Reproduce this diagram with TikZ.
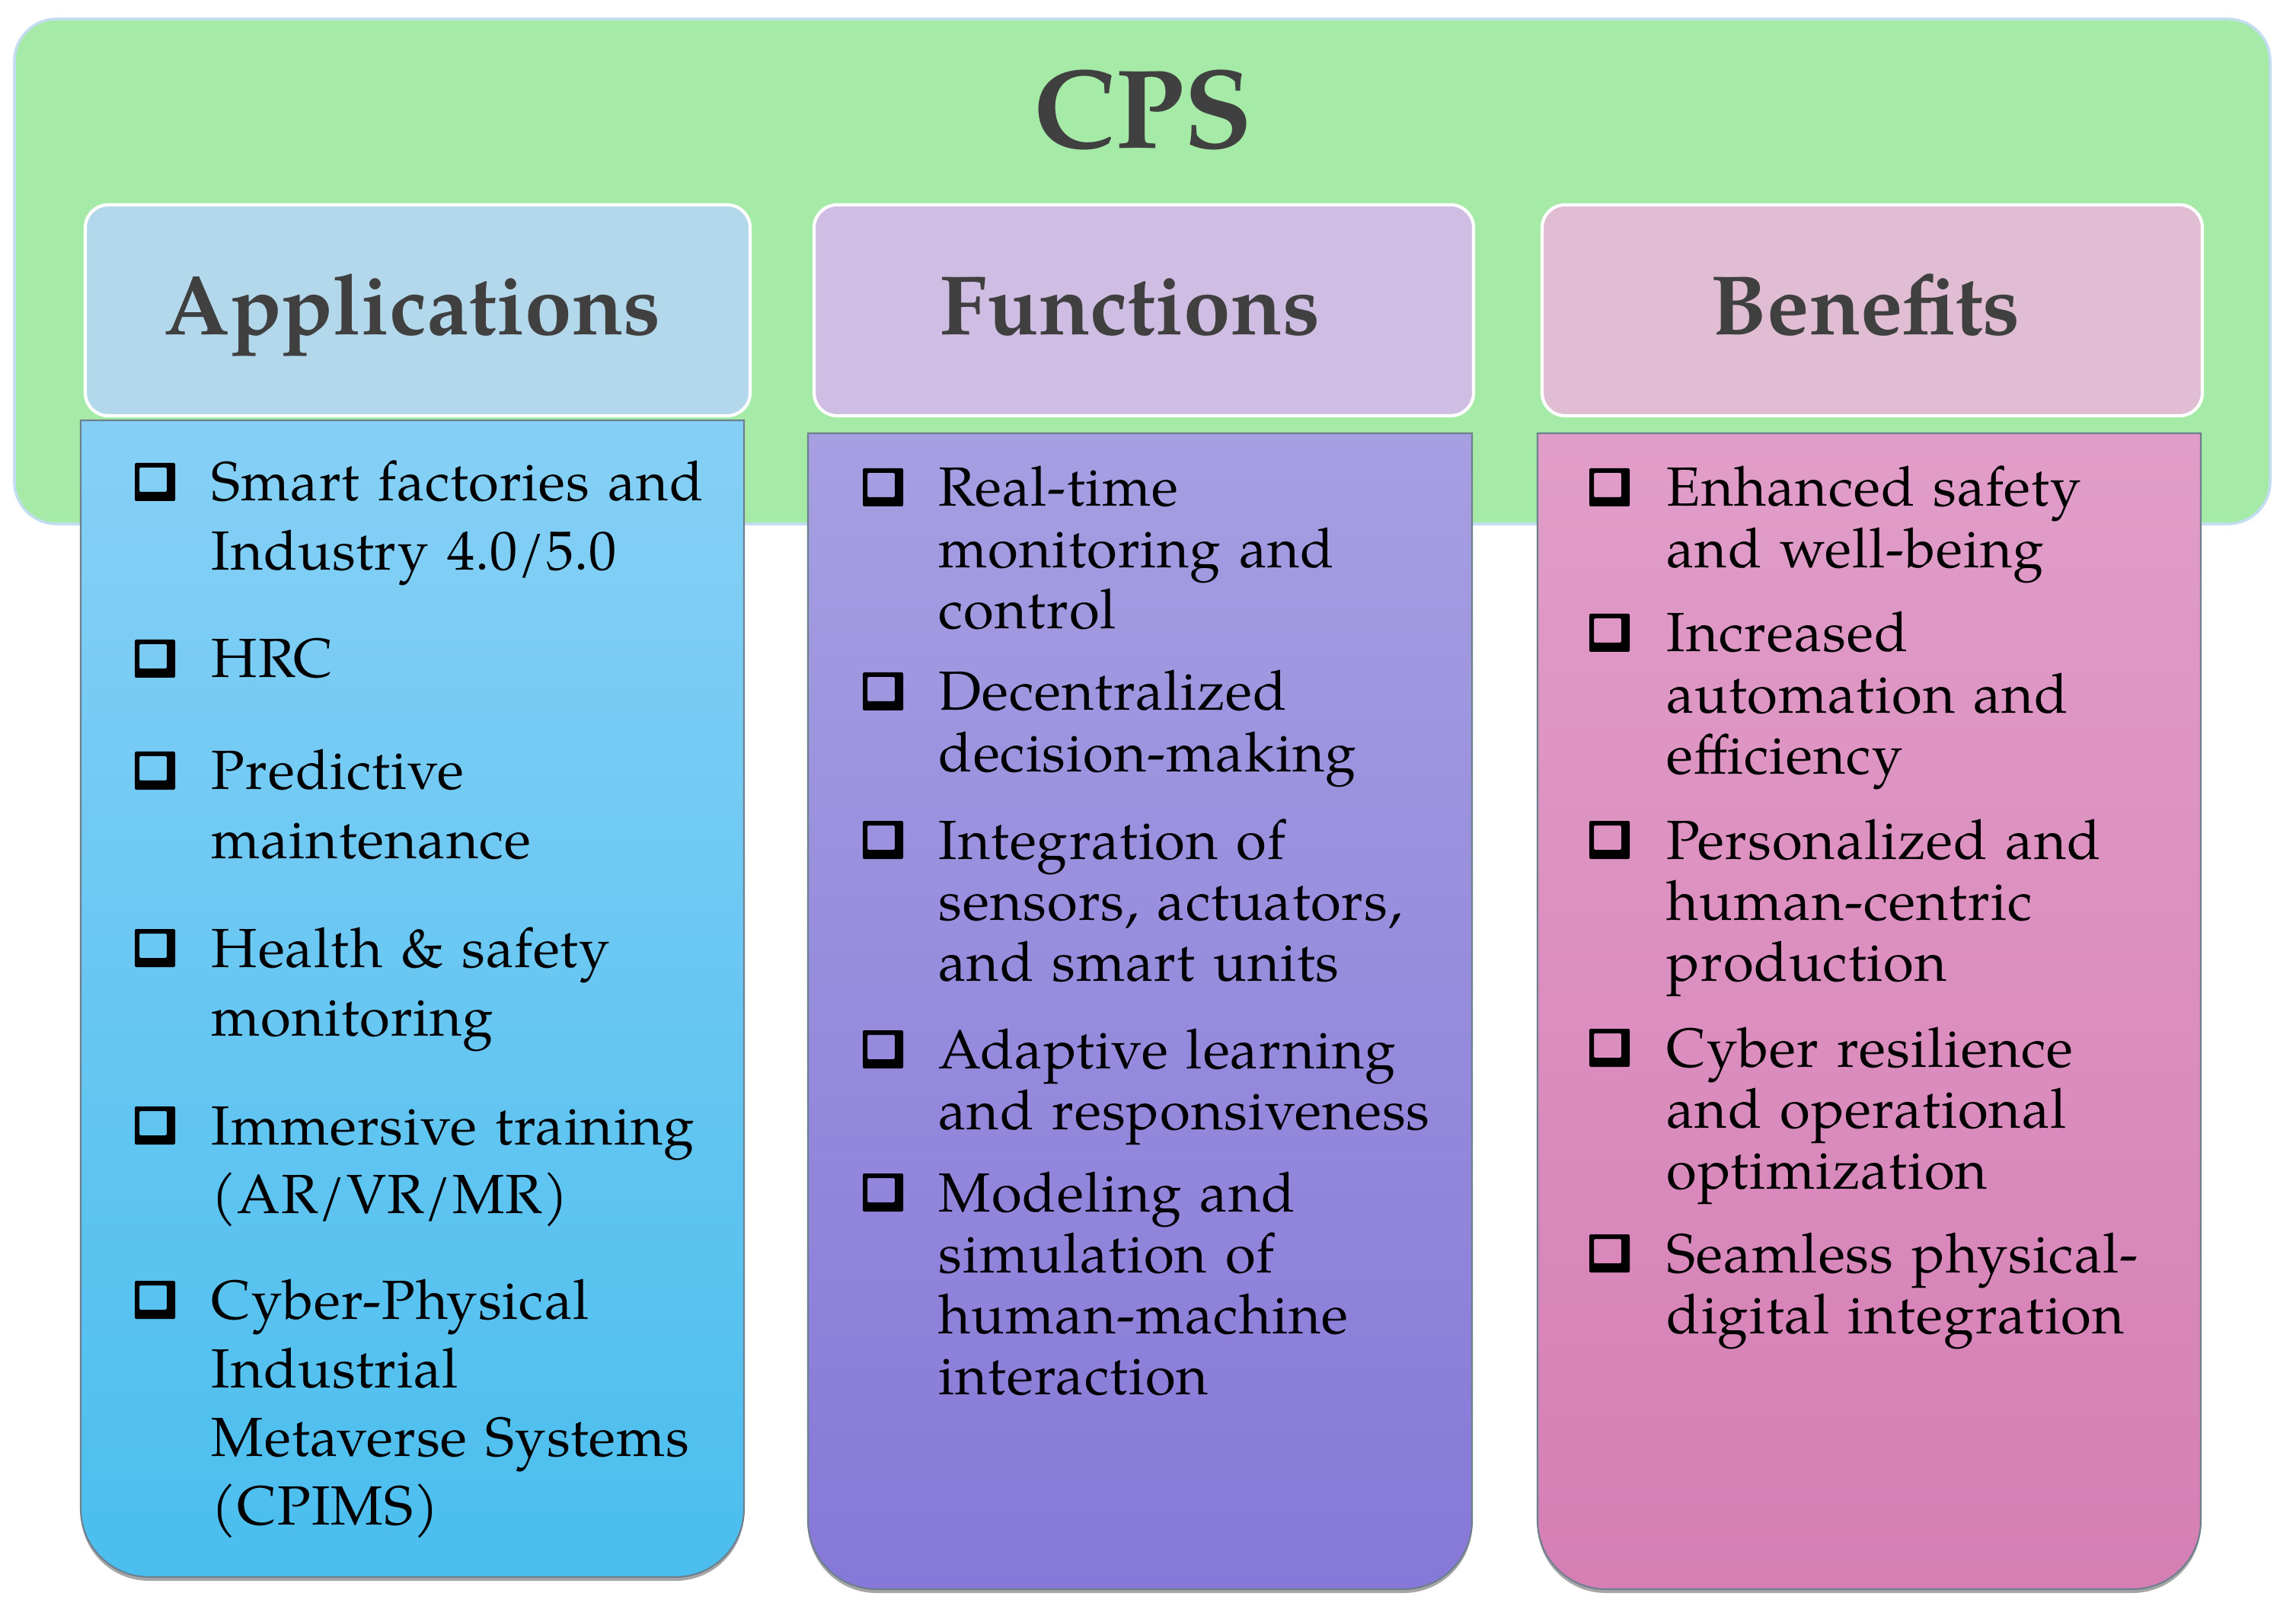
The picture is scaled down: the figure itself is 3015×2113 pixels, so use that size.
\documentclass[tikz,border=0pt]{standalone}
\usepackage{fontspec}
\setmainfont{TeX Gyre Pagella}
\definecolor{greenbg}{HTML}{A6EAA8}
\definecolor{greenbd}{HTML}{C2DDF0}
\definecolor{hdrA}{HTML}{B3D8EC}
\definecolor{hdrF}{HTML}{CFBDE3}
\definecolor{hdrB}{HTML}{E0BDD3}
\definecolor{bodyAt}{HTML}{86D0F6}
\definecolor{bodyAb}{HTML}{4ABEEE}
\definecolor{bodyFt}{HTML}{A69FE2}
\definecolor{bodyFb}{HTML}{8678D8}
\definecolor{bodyBt}{HTML}{E19DC9}
\definecolor{bodyBb}{HTML}{D57FB5}
\definecolor{hdrtext}{HTML}{404040}
\definecolor{edgegray}{HTML}{6E7F8E}
\tikzset{
  hdrtxt/.style={anchor=base, inner sep=0pt, text=hdrtext, font=\fontsize{31.5}{36}\selectfont\bfseries},
  itemA/.style={anchor=base west, inner sep=0pt, text width=8.5cm, align=left, font=\fontsize{20.6}{25.6}\selectfont\addfontfeature{LetterSpace=1.5}},
  itemB/.style={anchor=base west, inner sep=0pt, text width=8.5cm, align=left, font=\fontsize{20.6}{22.76}\selectfont\addfontfeature{LetterSpace=1.5}},
  hdrbox/.style={draw=white, line width=1.2pt, rounded corners=0.3cm},
  bodybox/.style={draw=edgegray, line width=0.6pt},
  bodyshadow/.style={fill=black, opacity=0.35}
}
\newcommand\bul[2]{\fill[black, even odd rule, rounded corners=0.02cm] ({#1},{#2-50}) rectangle ({#1+53},{#2}) ({#1+6},{#2-44}) rectangle ({#1+42},{#2-12});}
\begin{document}
\begin{tikzpicture}[x=0.01cm, y=-0.01cm]
\useasboundingbox (0,0) rectangle (3015,2113);
\fill[white] (0,0) rectangle (3015,2113);
% outer CPS panel
\path[fill=greenbg, draw=greenbd, line width=1pt, rounded corners=0.55cm] (19,25) rectangle (2981,688);
\node[anchor=base, inner sep=0pt, text=hdrtext, font=\fontsize{42}{48}\selectfont\bfseries] (cps) at (1501,195) {CPS};
% headers
\path[hdrbox, fill=hdrA] (112,269) rectangle (985,546);
\path[hdrbox, fill=hdrF] (1069,269) rectangle (1935,546);
\path[hdrbox, fill=hdrB] (2025,269) rectangle (2892,546);
\node[hdrtxt] (happ) at (542,440) {Applications};
\node[hdrtxt] (hfun) at (1484,440) {Functions};
\node[hdrtxt] (hben) at (2450,440) {Benefits};
% body boxes
\foreach \xa/\xb/\ya/\yb/\ct/\cb in {106/977/552/2071/bodyAt/bodyAb, 1061/1933/569/2087/bodyFt/bodyFb, 2019/2890/569/2087/bodyBt/bodyBb}{
  \path[bodyshadow, yshift=-0.05cm] (\xa,\ya) -- (\xb,\ya) -- (\xb,{\yb-90}) .. controls (\xb,{\yb-40}) and ({\xb-40},\yb) .. ({\xb-90},\yb) -- ({\xa+90},\yb) .. controls ({\xa+40},\yb) and (\xa,{\yb-40}) .. (\xa,{\yb-90}) -- cycle;
  \path[bodybox, top color=\ct, bottom color=\cb] (\xa,\ya) -- (\xb,\ya) -- (\xb,{\yb-90}) .. controls (\xb,{\yb-40}) and ({\xb-40},\yb) .. ({\xb-90},\yb) -- ({\xa+90},\yb) .. controls ({\xa+40},\yb) and (\xa,{\yb-40}) .. (\xa,{\yb-90}) -- cycle;
}
% Applications items
\node[itemA] (a1) at (277,658) {Smart factories and\\Industry 4.0/5.0};
\node[itemA] (a2) at (277,890) {HRC};
\node[itemA] (a3) at (277,1037) {Predictive\\maintenance};
\node[itemA] (a4) at (277,1270) {Health \& safety\\monitoring};
\node[itemA] (a5) at (277,1503) {Immersive training\\(AR/VR/MR)};
\node[itemA] (a6) at (277,1732) {Cyber-Physical\\Industrial\\Metaverse Systems\\(CPIMS)};
\foreach \yy in {658,890,1037,1270,1503,1732}{\bul{177}{\yy}}
% Functions items
\node[itemB] (f1) at (1232,665) {Real-time\\monitoring and\\control};
\node[itemB] (f2) at (1232,933) {Decentralized\\decision-making};
\node[itemB] (f3) at (1232,1128) {Integration of\\sensors, actuators,\\and smart units};
\node[itemB] (f4) at (1232,1403) {Adaptive learning\\and responsiveness};
\node[itemB] (f5) at (1232,1591) {Modeling and\\simulation of\\human-machine\\interaction};
\foreach \yy in {665,933,1128,1403,1591}{\bul{1133}{\yy}}
% Benefits items
\node[itemB] (b1) at (2188,665) {Enhanced safety\\and well-being};
\node[itemB] (b2) at (2188,856) {Increased\\automation and\\efficiency};
\node[itemB] (b3) at (2188,1128) {Personalized and\\human-centric\\production};
\node[itemB] (b4) at (2188,1401) {Cyber resilience\\and operational\\optimization};
\node[itemB] (b5) at (2188,1671) {Seamless physical-\\digital integration};
\foreach \yy in {665,856,1128,1401,1671}{\bul{2087}{\yy}}
\end{tikzpicture}
\end{document}
